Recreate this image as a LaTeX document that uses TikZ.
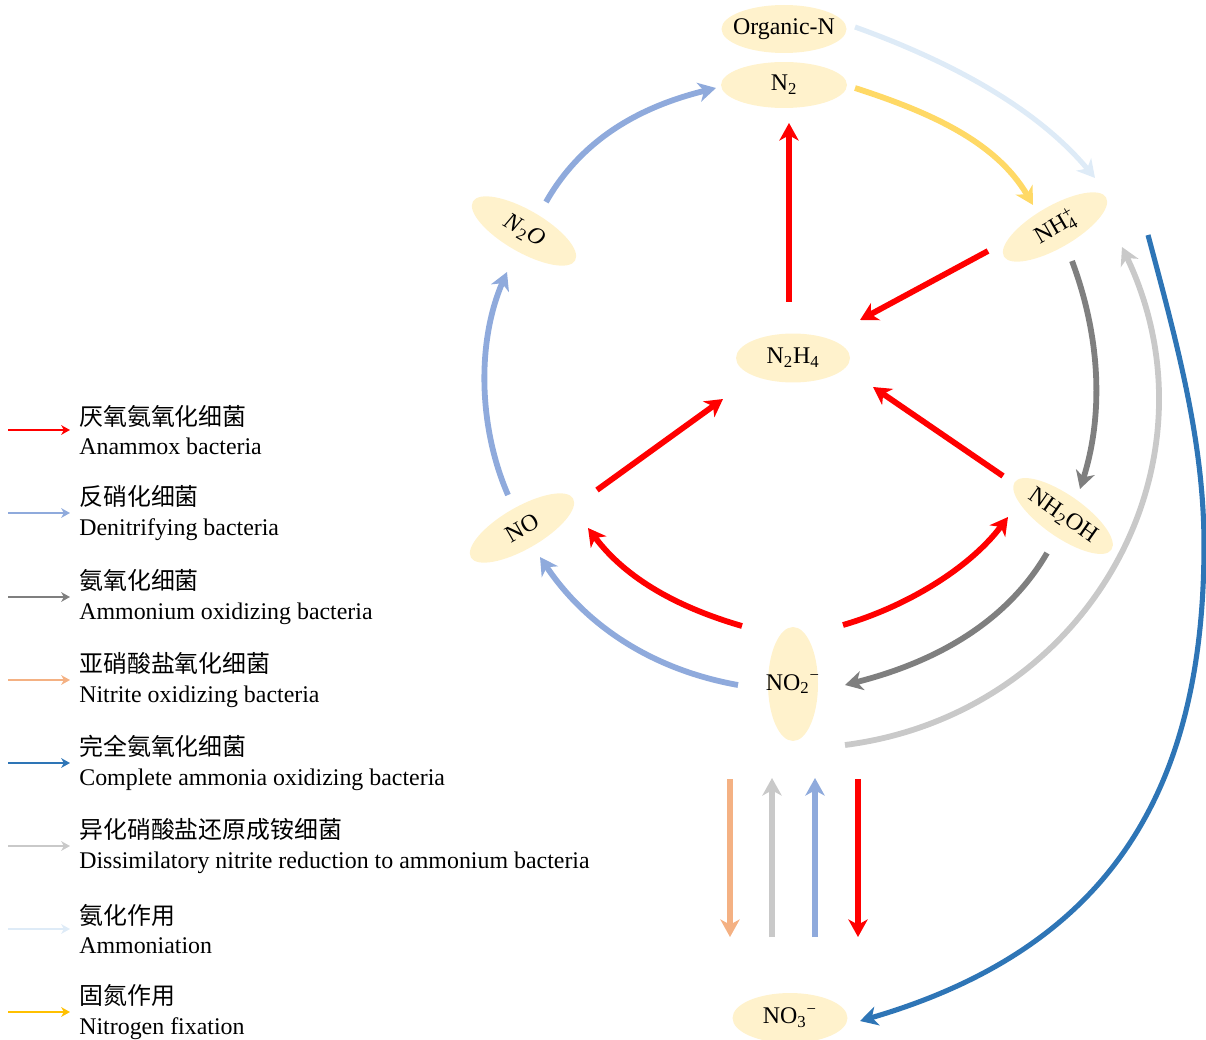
\documentclass[tikz,border=0pt]{standalone}
\usepackage{fontspec}
\setmainfont{Liberation Serif}
\newfontfamily\cjk{Noto Sans CJK SC}
\usetikzlibrary{arrows.meta,shapes.geometric}
\definecolor{bubble}{HTML}{FFF2CC}
\definecolor{cRed}{HTML}{FF0000}
\definecolor{cDen}{HTML}{8FAADC}
\definecolor{cAOB}{HTML}{7F7F7F}
\definecolor{cNOB}{HTML}{F4B183}
\definecolor{cCom}{HTML}{2E75B6}
\definecolor{cDNRA}{HTML}{C9C9C9}
\definecolor{cAmm}{HTML}{DEEBF7}
\definecolor{cFix}{HTML}{FFD966}
\definecolor{cFixL}{HTML}{FFC000}
\begin{document}
\begin{tikzpicture}[x=0.02cm,y=-0.02cm,
  bub/.style={ellipse, fill=bubble, draw=none, inner xsep=-5pt, inner ysep=0pt,
    font=\fontsize{13.6}{16}\selectfont},
  rotbub/.style={minimum width=2.36cm, minimum height=0.84cm},
  conn/.style={line width=3.3pt, -{Stealth[length=10pt,width=11pt,inset=3pt]}},
  leg/.style={line width=1.6pt, -{Stealth[length=5pt,width=5.5pt,inset=1.5pt]}},
  legtext/.style={anchor=west, align=left, inner sep=0pt,
    font=\fontsize{13.6}{17}\selectfont}]
\useasboundingbox (0,0) rectangle (1206,1040);

% ---------- species ----------
\node[bub, minimum width=2.5cm, minimum height=0.96cm] (orgN) at (784,29) {Organic-N};
\node[bub, minimum width=2.52cm, minimum height=0.92cm] (N2) at (784,85) {N\textsubscript{2}};
\node[bub, rotbub, rotate=-30] (N2O) at (524,231) {\textit{N}\textsubscript{2}\textit{O}};
\node[bub, rotbub, rotate=30] (NO) at (522,528) {NO};
\node[bub, rotbub, rotate=30] (NH4) at (1055,227) {NH\rlap{\textsuperscript{+}}\textsubscript{4}};
\node[bub, rotbub, rotate=-35] (NH2OH) at (1063,516) {NH\textsubscript{2}OH};
\node[bub, minimum width=2.28cm, minimum height=0.98cm] (N2H4) at (793,358) {N\textsubscript{2}H\textsubscript{4}};
\node[bub, minimum width=1.0cm, minimum height=2.28cm, inner xsep=-9pt] (NO2) at (793,684) {NO\textsubscript{2}\textsuperscript{−}};
\node[bub, minimum width=2.3cm, minimum height=1.0cm] (NO3) at (790,1018) {NO\textsubscript{3}\textsuperscript{−}};

% ---------- connector end points ----------
\coordinate (orgN-o) at (855,27);   \coordinate (NH4-i1) at (1095,178);
\coordinate (N2-o)   at (855,88);   \coordinate (NH4-i2) at (1033,205);
\coordinate (N2O-o)  at (546,202);  \coordinate (N2-i1)  at (716,88);
\coordinate (NO-o1)  at (508,495);  \coordinate (N2O-i)  at (507,272);
\coordinate (NO2-o1) at (738,685);  \coordinate (NO-i1)  at (540,557);
\coordinate (NO2-o2) at (742,626);  \coordinate (NO-i2)  at (588,528);
\coordinate (NO2-o3) at (843,625);  \coordinate (NH2OH-i1) at (1008,517);
\coordinate (NO-o2)  at (597,490);  \coordinate (N2H4-i1) at (723,399);
\coordinate (NH2OH-o1) at (1003,476); \coordinate (N2H4-i2) at (873,387);
\coordinate (NH4-o1) at (988,251);  \coordinate (N2H4-i3) at (860,320);
\coordinate (N2H4-o) at (789,302);  \coordinate (N2-i2)  at (789,123);
\coordinate (NH4-o2) at (1072,261); \coordinate (NH2OH-i2) at (1080,489);
\coordinate (NH2OH-o2) at (1047,553); \coordinate (NO2-i1) at (845,685);
\coordinate (NO2-o4) at (845,745);  \coordinate (NH4-i3) at (1122,247);
\coordinate (NH4-o3) at (1148,235); \coordinate (NO3-i1) at (860,1021);
\coordinate (comM) at (1204,545);
\coordinate (v1a) at (730,779); \coordinate (v1b) at (730,937);
\coordinate (v2a) at (772,937); \coordinate (v2b) at (772,778);
\coordinate (v3a) at (815,937); \coordinate (v3b) at (815,778);
\coordinate (v4a) at (858,779); \coordinate (v4b) at (858,937);

% ---------- connectors ----------
\draw[conn, cAmm, line width=2.9pt] (orgN-o) .. controls (944,59) and (1034,105) .. (NH4-i1);
\draw[conn, cFix] (N2-o) .. controls (926,111) and (995,140) .. (NH4-i2);
\draw[conn, cDen] (N2O-o) .. controls (583,137) and (643,106) .. (N2-i1);
\draw[conn, cDen] (NO-o1) .. controls (478,426) and (477,341) .. (N2O-i);
\draw[conn, cDen] (NO2-o1) .. controls (654,670) and (587,627) .. (NO-i1);
\draw[conn, cRed] (NO2-o2) .. controls (680,608) and (627,580) .. (NO-i2);
\draw[conn, cRed] (NO2-o3) .. controls (905,607) and (969,569) .. (NH2OH-i1);
\draw[conn, cRed] (NO-o2) -- (N2H4-i1);
\draw[conn, cRed] (NH2OH-o1) -- (N2H4-i2);
\draw[conn, cRed] (NH4-o1) -- (N2H4-i3);
\draw[conn, cRed] (N2H4-o) -- (N2-i2);
\draw[conn, cAOB] (NH4-o2) .. controls (1100,336) and (1104,413) .. (NH2OH-i2);
\draw[conn, cAOB] (NH2OH-o2) .. controls (1004,627) and (928,664) .. (NO2-i1);
\draw[conn, cDNRA] (NO2-o4) .. controls (1086,714) and (1226,466) .. (NH4-i3);
\draw[conn, cCom, line width=2.9pt] (NH4-o3) .. controls (1176,340) and (1204,440) .. (comM)
   .. controls (1204,790) and (1110,948) .. (NO3-i1);
\draw[conn, cNOB] (v1a) -- (v1b);
\draw[conn, cDNRA] (v2a) -- (v2b);
\draw[conn, cDen] (v3a) -- (v3b);
\draw[conn, cRed] (v4a) -- (v4b);

% ---------- legend ----------
\coordinate (L1a) at (8,430);  \coordinate (L1b) at (70,430);
\coordinate (L2a) at (8,513);  \coordinate (L2b) at (70,513);
\coordinate (L3a) at (8,597);  \coordinate (L3b) at (70,597);
\coordinate (L4a) at (8,680);  \coordinate (L4b) at (70,680);
\coordinate (L5a) at (8,763);  \coordinate (L5b) at (70,763);
\coordinate (L6a) at (8,846);  \coordinate (L6b) at (70,846);
\coordinate (L7a) at (8,929);  \coordinate (L7b) at (70,929);
\coordinate (L8a) at (8,1012); \coordinate (L8b) at (70,1012);
\draw[leg, cRed]   (L1a) -- (L1b);
\draw[leg, cDen]   (L2a) -- (L2b);
\draw[leg, cAOB]   (L3a) -- (L3b);
\draw[leg, cNOB]   (L4a) -- (L4b);
\draw[leg, cCom]   (L5a) -- (L5b);
\draw[leg, cDNRA]  (L6a) -- (L6b);
\draw[leg, cAmm]   (L7a) -- (L7b);
\draw[leg, cFixL]  (L8a) -- (L8b);
\node[legtext] (T1) at (79,430) {{\cjk 厌氧氨氧化细菌}\\Anammox bacteria};
\node[legtext] (T2) at (79,513) {{\cjk 反硝化细菌}\\Denitrifying bacteria};
\node[legtext] (T3) at (79,597) {{\cjk 氨氧化细菌}\\Ammonium oxidizing bacteria};
\node[legtext] (T4) at (79,680) {{\cjk 亚硝酸盐氧化细菌}\\Nitrite oxidizing bacteria};
\node[legtext] (T5) at (79,763) {{\cjk 完全氨氧化细菌}\\Complete ammonia oxidizing bacteria};
\node[legtext] (T6) at (79,846) {{\cjk 异化硝酸盐还原成铵细菌}\\Dissimilatory nitrite reduction to ammonium bacteria};
\node[legtext] (T7) at (79,929) {{\cjk 氨化作用}\\Ammoniation};
\node[legtext] (T8) at (79,1012) {{\cjk 固氮作用}\\Nitrogen fixation};
\end{tikzpicture}
\end{document}
